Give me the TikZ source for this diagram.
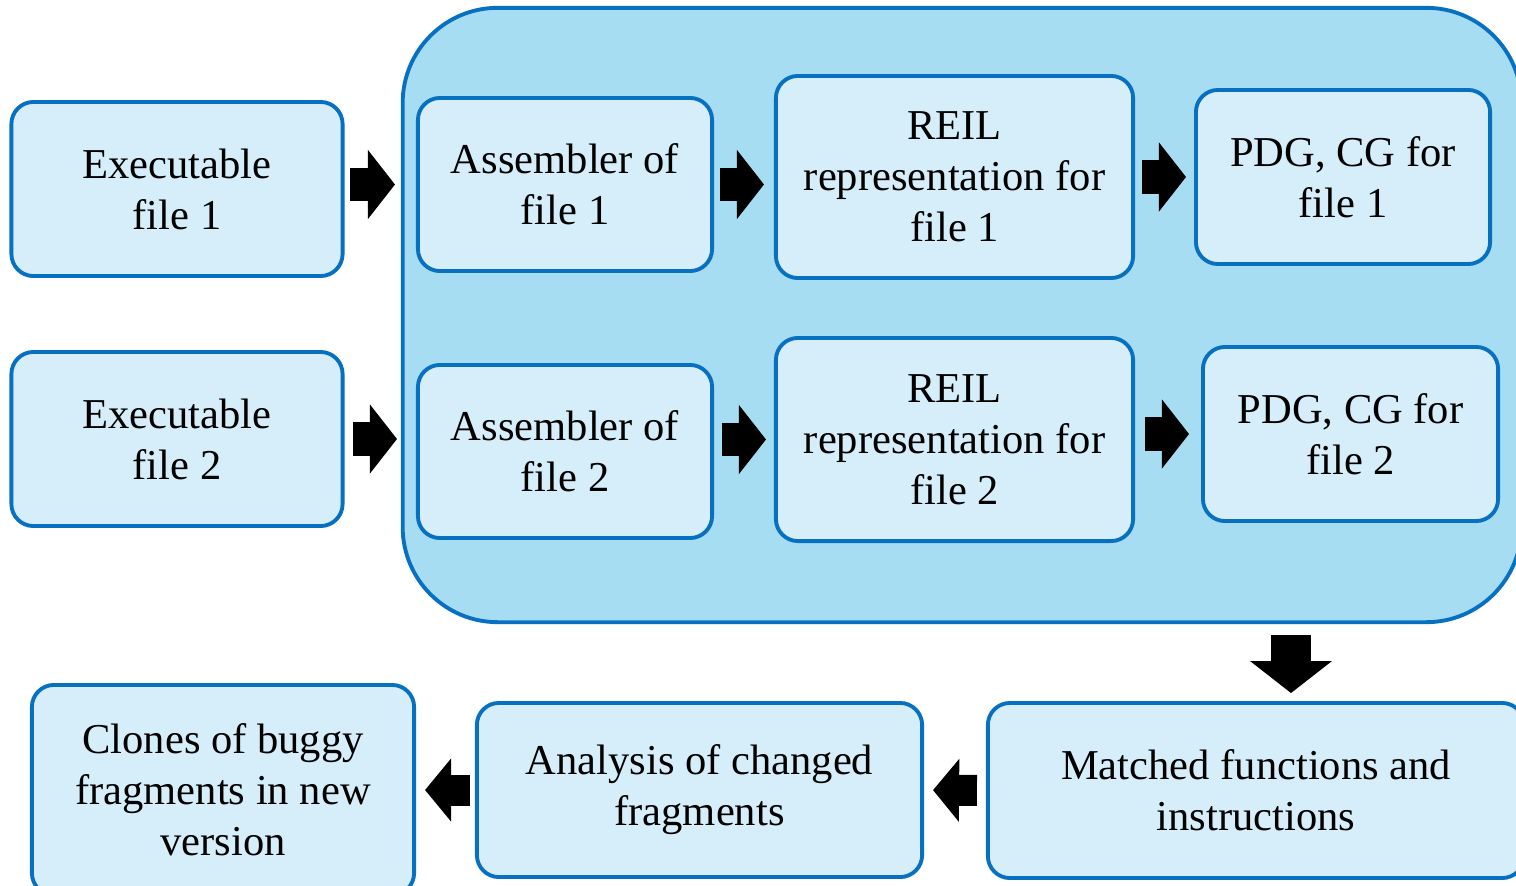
\documentclass[tikz,border=0pt]{standalone}
\usepackage{fontspec}
\setmainfont{Liberation Serif}
\usetikzlibrary{arrows.meta}
\definecolor{boxfill}{RGB}{213,238,249}
\definecolor{grpfill}{RGB}{166,221,243}
\definecolor{boxedge}{RGB}{8,112,192}

\begin{document}
\begin{tikzpicture}[x=0.01cm, y=-0.01cm,
	stage/.style={draw=boxedge, line width=1.1pt, fill=boxfill, rounded corners=0.22cm,
		align=center, inner sep=0pt, font=\fontsize{12.1pt}{14.5pt}\selectfont},
	grp/.style={draw=boxedge, line width=1.1pt, fill=grpfill, rounded corners=0.95cm, inner sep=0pt},
	blk/.style={line width=0.33cm, -{Triangle[width=0.69cm,length=0.27cm,line width=0pt]}},
	blkbig/.style={line width=0.40cm, -{Triangle[width=0.82cm,length=0.32cm,line width=0pt]}},
	blksmall/.style={line width=0.31cm, -{Triangle[width=0.63cm,length=0.26cm,line width=0pt]}}]
			\clip (0,0) rectangle (1516,885);

			% 输入文件
			\node[stage, minimum width=3.31cm, minimum height=1.74cm] (e1) at (177,189) {Executable\\file 1};
			\node[stage, minimum width=3.31cm, minimum height=1.74cm] (e2) at (177,439) {Executable\\file 2};

			% 外框
			\node[grp, minimum width=11.18cm, minimum height=6.14cm] (g) at (962,315) {};

			% 框内各步
			\node[stage, minimum width=2.94cm, minimum height=1.73cm] (a1) at (565,184.5) {Assembler of\\file 1};
			\node[stage, minimum width=2.94cm, minimum height=1.73cm] (a2) at (565,451.5) {Assembler of\\file 2};
			\node[stage, minimum width=3.57cm, minimum height=2.02cm] (r1) at (954.5,177) {REIL\\representation for\\file 1};
			\node[stage, minimum width=3.57cm, minimum height=2.03cm] (r2) at (954.5,439.5) {REIL\\representation for\\file 2};
			\node[stage, minimum width=2.94cm, minimum height=1.74cm] (p1) at (1343,177) {PDG, CG for\\file 1};
			\node[stage, minimum width=2.95cm, minimum height=1.74cm] (p2) at (1350.5,434) {PDG, CG for\\file 2};

			% 下方一行
			\node[stage, minimum width=5.36cm, minimum height=1.75cm] (m) at (1256,790.5) {Matched functions and\\instructions};
			\node[stage, minimum width=4.45cm, minimum height=1.74cm] (an) at (699.5,790) {Analysis of changed\\fragments};
			\node[stage, minimum width=3.82cm, minimum height=2.10cm] (c) at (223,790) {Clones of buggy\\fragments in new\\version};

			% 箭头
			\draw[blk, shorten <=0.05cm, shorten >=0.21cm] (e1.east |- a1.west) -- (a1.west);
			\draw[blk, shorten <=0.06cm, shorten >=0.10cm] (a1.east) -- (a1.east -| r1.west);
			\draw[blk, shorten <=0.07cm, shorten >=0.08cm] (r1.east) -- (p1.west);
			\draw[blk, shorten <=0.08cm, shorten >=0.19cm] (e2.east) -- (e2.east -| a2.west);
			\draw[blk, shorten <=0.08cm, shorten >=0.08cm] (a2.east |- r2.west) -- (r2.west);
			\draw[blk, shorten <=0.10cm, shorten >=0.12cm] (r2.east |- p2.west) -- (p2.west);
			\coordinate (d) at (1291,0);
			\draw[blkbig, shorten <=0.11cm, shorten >=0.08cm] (d |- g.south) -- (d |- m.north);
			\draw[blksmall, shorten <=0.09cm, shorten >=0.09cm] (m.west) -- (an.east);
			\draw[blksmall, shorten <=0.05cm, shorten >=0.09cm] (an.west) -- (c.east);
		\end{tikzpicture}
\end{document}
